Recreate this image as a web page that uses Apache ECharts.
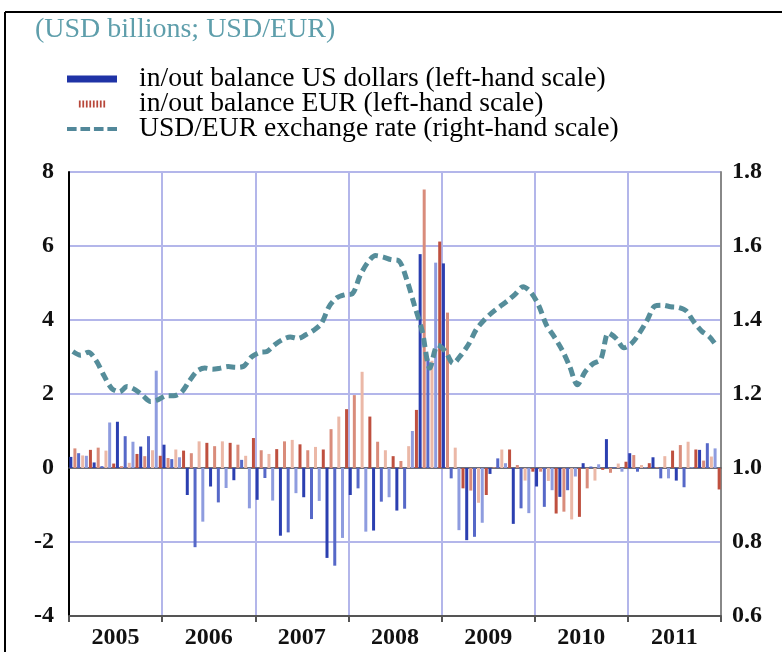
<!DOCTYPE html>
<html>
<head>
<meta charset="utf-8">
<script src="https://cdn.jsdelivr.net/npm/echarts@6/dist/echarts.min.js"></script>
<style>
  html, body { margin: 0; padding: 0; background: #fff; }
  #chart { width: 782px; height: 652px; }
</style>
</head>
<body>
<div id="chart"></div>
<script>
const years = ['2005', '2006', '2007', '2008', '2009', '2010', '2011']
const months = years.flatMap(y => ['01', '02', '03', '04', '05', '06', '07', '08', '09', '10', '11', '12'].map(m => y + '-' + m))

// in/out balance, USD billions (left-hand scale)
const usdBalance = [
  0.3, 0.4, 0.33, 0.15, 0.05, 1.23, 1.25, 0.86, 0.71, 0.58, 0.86, 2.63,
  0.63, 0.24, 0.29, -0.73, -2.14, -1.45, -0.5, -0.93, -0.54, -0.33, 0.22, -1.09,
  -0.86, -0.27, -0.88, -1.83, -1.74, -0.68, -0.79, -1.38, -0.89, -2.43, -2.64, -1.89,
  -0.73, -0.55, -1.72, -1.69, -0.91, -0.79, -1.15, -1.1, 1.0, 5.78, 2.96, 5.55,
  5.53, -0.28, -1.68, -1.95, -1.86, -1.48, -0.16, 0.26, 0.13, -1.51, -1.09, -1.22,
  -0.5, -1.05, -0.6, -0.78, -0.6, -0.23, 0.13, 0.04, 0.1, 0.78, 0.02, -0.1,
  0.4, -0.1, 0.02, 0.29, -0.28, -0.28, -0.34, -0.52, 0.02, 0.49, 0.67, 0.53
]
const eurBalance = [
  0.53, 0.34, 0.49, 0.55, 0.47, 0.12, 0.05, 0.14, 0.38, 0.32, 0.48, 0.33,
  0.27, 0.5, 0.47, 0.4, 0.72, 0.68, 0.59, 0.72, 0.68, 0.63, 0.33, 0.81,
  0.48, 0.38, 0.51, 0.72, 0.76, 0.64, 0.48, 0.57, 0.5, 1.05, 1.39, 1.59,
  1.97, 2.6, 1.39, 0.71, 0.48, 0.32, 0.19, 0.59, 1.57, 7.53, 2.9, 6.12,
  4.2, 0.55, -0.55, -0.61, -0.94, -0.73, 0.02, 0.5, 0.5, 0.08, -0.34, -0.1,
  -0.1, -0.35, -1.23, -1.18, -1.39, -1.32, -0.55, -0.34, -0.05, -0.13, 0.12, 0.17,
  0.35, 0.08, 0.13, 0.02, 0.32, 0.47, 0.62, 0.71, 0.5, 0.2, 0.31, -0.58
]
// USD/EUR exchange rate (right-hand scale)
const usdEurRate = [
  1.315, 1.305, 1.313, 1.29, 1.25, 1.215, 1.206, 1.22, 1.212, 1.196, 1.18, 1.185,
  1.195, 1.195, 1.205, 1.235, 1.262, 1.27, 1.267, 1.27, 1.274, 1.272, 1.275, 1.30,
  1.312, 1.315, 1.333, 1.347, 1.354, 1.35, 1.36, 1.372, 1.39, 1.436, 1.46, 1.468,
  1.471, 1.52, 1.556, 1.574, 1.57, 1.563, 1.56, 1.51, 1.44, 1.37, 1.27, 1.332,
  1.315, 1.283, 1.305, 1.335, 1.375, 1.40, 1.42, 1.436, 1.452, 1.47, 1.49, 1.475,
  1.44, 1.387, 1.355, 1.32, 1.275, 1.225, 1.26, 1.282, 1.293, 1.365, 1.35, 1.325,
  1.337, 1.365, 1.40, 1.438, 1.44, 1.436, 1.434, 1.425, 1.395, 1.37, 1.355, 1.328
]

const FONT = "'Liberation Serif', 'Times New Roman', serif"
const GRID_COLOR = '#b3b6ea'
const blueShades = ['#2b3fb0', '#5668c8', '#8e9cdf']
const redShades = ['#bf503f', '#d98c7b', '#ebb8a7']

const stripes = 'path://' + Array.from({ length: 8 }, (_, i) => `M${i * 2},0h1v4h-1z`).join(' ')
const dashes = 'path://' + Array.from({ length: 4 }, (_, i) => `M${i * 7},0h5v2h-5z`).join(' ')

const chart = echarts.init(document.getElementById('chart'), null, { renderer: 'canvas' })

const axisText = { color: '#111', fontSize: 24, fontWeight: 'bold', fontFamily: FONT }

chart.setOption({
  animation: false,
  backgroundColor: '#fff',
  textStyle: { fontFamily: FONT },
  title: {
    text: '(USD billions; USD/EUR)',
    left: 30, top: 11,
    textStyle: { color: '#5e9eab', fontSize: 28, fontWeight: 'normal', fontFamily: FONT }
  },
  legend: {
    orient: 'vertical',
    left: 67, top: 65,
    padding: 0,
    itemWidth: 50, itemHeight: 7,
    itemGap: -3,
    selectedMode: false,
    textStyle: { color: '#000', fontSize: 27.6, fontFamily: FONT, lineHeight: 24, padding: [0, 0, 0, 17] },
    data: [
      { name: 'in/out balance US dollars (left-hand scale)', icon: 'rect', itemStyle: { color: '#1f33a6' } },
      { name: 'in/out balance EUR (left-hand scale)', icon: stripes, itemStyle: { color: '#b8473a' } },
      { name: 'USD/EUR exchange rate (right-hand scale)', icon: dashes, itemStyle: { color: '#52889a' } }
    ]
  },
  graphic: [
    { type: 'line', shape: { x1: 5, y1: 12, x2: 782, y2: 12 }, style: { stroke: '#000', lineWidth: 2 } },
    { type: 'line', shape: { x1: 5, y1: 12, x2: 5, y2: 652 }, style: { stroke: '#000', lineWidth: 2 } }
  ],
  grid: { left: 69, right: 61, top: 172, bottom: 36 },
  xAxis: [
    {
      type: 'category',
      data: months,
      boundaryGap: true,
      axisLine: { onZero: true, lineStyle: { color: '#555', width: 1.5 } },
      axisTick: { show: false },
      axisLabel: { show: false },
      splitLine: { show: false }
    },
    {
      type: 'category',
      data: years,
      position: 'bottom',
      boundaryGap: true,
      axisLine: { onZero: false, lineStyle: { color: '#555', width: 2 } },
      axisTick: { show: true, length: 6, lineStyle: { color: '#555', width: 2 } },
      axisLabel: { ...axisText, margin: 10 },
      splitLine: { show: true, lineStyle: { color: GRID_COLOR, width: 2 } }
    }
  ],
  yAxis: [
    {
      type: 'value',
      min: -4, max: 8, interval: 2,
      axisLine: { show: true, onZero: false, lineStyle: { color: '#000', width: 2 } },
      axisTick: { show: false },
      axisLabel: { ...axisText, margin: 15 },
      splitLine: { lineStyle: { color: GRID_COLOR, width: 2 } }
    },
    {
      type: 'value',
      position: 'right',
      min: 0.6, max: 1.8, interval: 0.2,
      axisLine: { show: true, onZero: false, lineStyle: { color: '#888', width: 2 } },
      axisTick: { show: false },
      axisLabel: { ...axisText, margin: 11, formatter: v => v.toFixed(1) },
      splitLine: { show: false }
    }
  ],
  series: [
    {
      name: 'in/out balance US dollars (left-hand scale)',
      type: 'bar',
      xAxisIndex: 0, yAxisIndex: 0,
      data: usdBalance,
      barWidth: 3,
      barGap: '35%',
      itemStyle: { color: p => blueShades[p.dataIndex % 3] },
      z: 3
    },
    {
      name: 'in/out balance EUR (left-hand scale)',
      type: 'bar',
      xAxisIndex: 0, yAxisIndex: 0,
      data: eurBalance,
      barWidth: 3,
      itemStyle: { color: p => redShades[(p.dataIndex + 1) % 3] },
      z: 3
    },
    {
      name: 'USD/EUR exchange rate (right-hand scale)',
      type: 'line',
      xAxisIndex: 0, yAxisIndex: 1,
      data: usdEurRate,
      smooth: 0.3,
      symbol: 'none',
      lineStyle: { color: '#558d9a', width: 5, type: [9, 5] },
      z: 5
    }
  ]
})
</script>
</body>
</html>
